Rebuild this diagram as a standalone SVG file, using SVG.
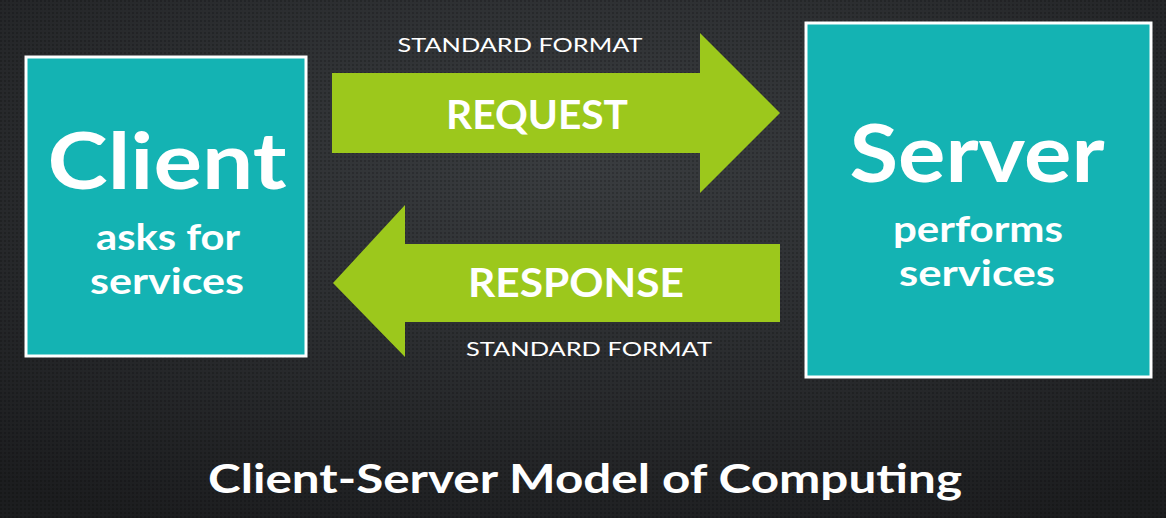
<svg xmlns="http://www.w3.org/2000/svg" width="1166" height="518" viewBox="0 0 1166 518">
<defs>
<radialGradient id="bg" cx="0.5" cy="0.3" r="0.8"><stop offset="0" stop-color="#3a3d40"/><stop offset="1" stop-color="#1c1d1f"/></radialGradient>
<pattern id="dots" width="4" height="4" patternUnits="userSpaceOnUse"><rect width="2" height="2" fill="#000" opacity="0.18"/></pattern>
<style>
.box{fill:#14b3b3;stroke:#fff;stroke-width:3}
.arr{fill:#9cc81c}
text{font-family:Lato,"Open Sans",sans-serif;fill:#fff;text-anchor:middle}
.b{font-weight:bold}
.sm{font-size:20px}
</style>
</defs>
<rect width="1166" height="518" fill="url(#bg)"/>
<rect width="1166" height="518" fill="url(#dots)"/>
<g id="client"><rect class="box" x="26" y="57" width="280" height="299"/>
<text class="b" x="167" y="189" font-size="78" textLength="239" lengthAdjust="spacingAndGlyphs">Client</text>
<text class="b" x="168" y="250" font-size="36" textLength="144" lengthAdjust="spacingAndGlyphs">asks for</text>
<text class="b" x="167" y="294" font-size="36" textLength="154" lengthAdjust="spacingAndGlyphs">services</text></g>
<g id="server"><rect class="box" x="806" y="23" width="345" height="354"/>
<text class="b" x="977" y="182" font-size="80" textLength="255" lengthAdjust="spacingAndGlyphs">Server</text>
<text class="b" x="978" y="242" font-size="36" textLength="170" lengthAdjust="spacingAndGlyphs">performs</text>
<text class="b" x="977" y="286" font-size="36" textLength="156" lengthAdjust="spacingAndGlyphs">services</text></g>
<g id="connectors">
<polygon class="arr" points="332,73 700,73 700,33 780,113 700,193 700,153 332,153"/>
<polygon class="arr" points="780,244 405,244 405,205 333,283 405,357 405,322 780,322"/>
<text x="520" y="52" class="sm" textLength="245" lengthAdjust="spacingAndGlyphs">STANDARD FORMAT</text>
<text x="537" y="129" class="b" font-size="40" textLength="182" lengthAdjust="spacingAndGlyphs">REQUEST</text>
<text x="576" y="297" class="b" font-size="40" textLength="216" lengthAdjust="spacingAndGlyphs">RESPONSE</text>
<text x="589" y="356" class="sm" textLength="246" lengthAdjust="spacingAndGlyphs">STANDARD FORMAT</text>
</g>
<text x="585" y="493" class="b" font-size="40" textLength="754" lengthAdjust="spacingAndGlyphs">Client-Server Model of Computing</text>
</svg>
